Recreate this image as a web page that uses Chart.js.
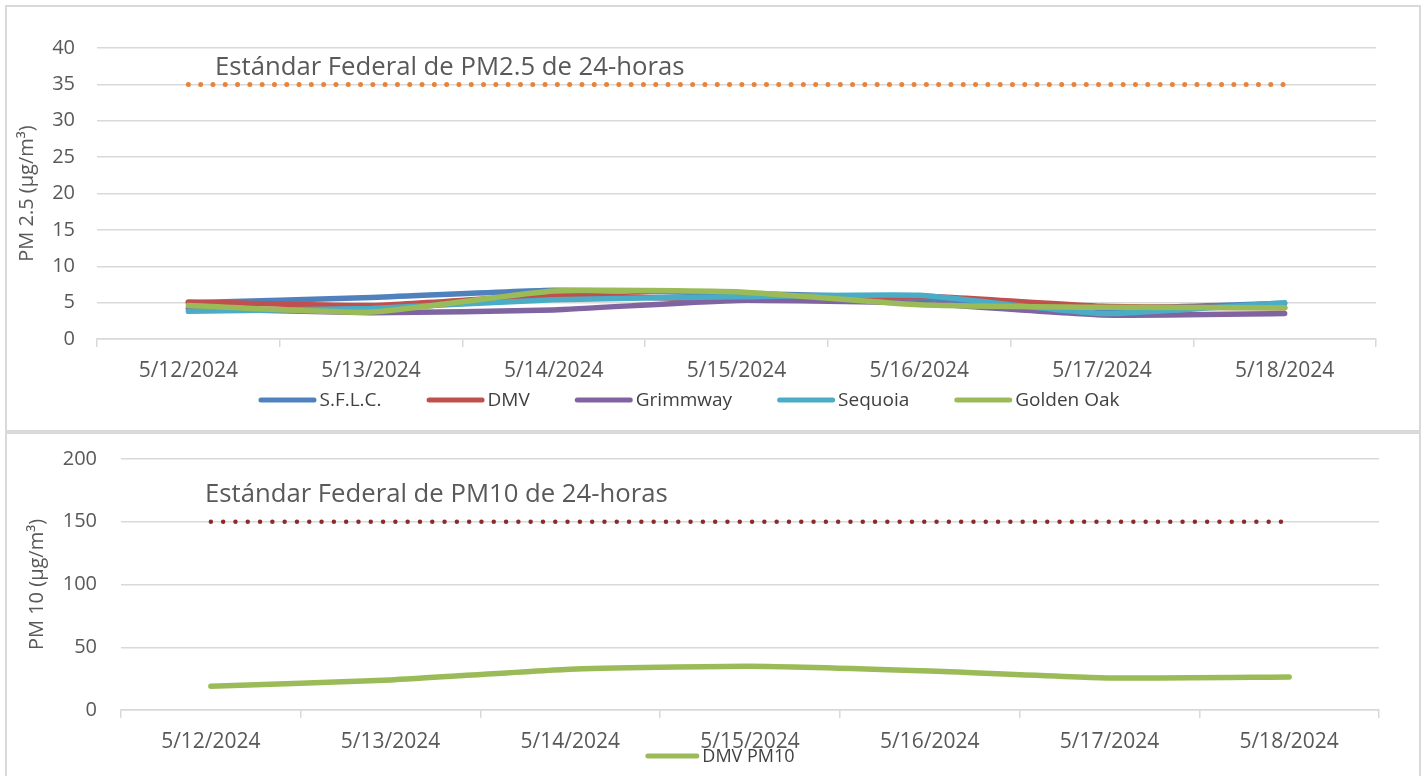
<!DOCTYPE html>
<html>
<head>
<meta charset="utf-8">
<script src="https://cdn.jsdelivr.net/npm/chart.js@4.4.1/dist/chart.umd.min.js"></script>
<style>
  html, body { margin: 0; padding: 0; background: #fff; overflow: hidden; }
  .panel { position: absolute; left: 5px; width: 1416px; box-sizing: border-box; border: 2px solid #d9d9d9; background: #fff; }
  #top-panel { top: 5px; height: 427px; }
  #bottom-panel { top: 432px; height: 350px; }
  canvas { display: block; }
</style>
</head>
<body>
<div class="panel" id="top-panel"><canvas id="pm25" width="1412" height="423"></canvas></div>
<div class="panel" id="bottom-panel"><canvas id="pm10" width="1412" height="346"></canvas></div>
<script>
// datos
const dates = ["5/12/2024", "5/13/2024", "5/14/2024", "5/15/2024", "5/16/2024", "5/17/2024", "5/18/2024"];

const sflc      = [5.0, 5.7, 6.7, 6.3, 5.6, 4.2, 4.9];
const dmv       = [5.1, 4.6, 6.0, 5.4, 5.9, 4.5, 4.3];
const grimmway  = [4.2, 3.6, 4.0, 5.3, 4.9, 3.3, 3.5];
const sequoia   = [3.8, 4.2, 5.4, 5.8, 6.0, 3.5, 5.0];
const goldenOak = [4.6, 3.7, 6.6, 6.5, 4.7, 4.35, 4.3];

const dmvPm10 = [19, 24, 32.5, 34.8, 31, 25.5, 26.3];

const pm25Limit = 35;
const pm10Limit = 150;
const pm25Ticks = { min: 0, max: 40, step: 5 };
const pm10Ticks = { min: 0, max: 200, step: 50 };

const pm25LimitText = "Estándar Federal de PM2.5 de 24-horas";
const pm10LimitText = "Estándar Federal de PM10 de 24-horas";

Chart.defaults.font.family = "'Open Sans', sans-serif";
Chart.defaults.color = "#595959";

const GRID = "#d9d9d9";
const TEXT = "#595959";

function seriesDs(label, data, color, order) {
  return {
    label, data,
    borderColor: color, backgroundColor: color,
    borderWidth: 5.5, pointRadius: 0, tension: 0.15,
    borderCapStyle: "round", borderJoinStyle: "round",
    order
  };
}

function limitDs(value, color, width) {
  return {
    label: "limit", isLimit: true,
    data: dates.map(() => value),
    borderColor: color, borderWidth: width,
    borderDash: [0, 12.3], borderCapStyle: "round",
    pointRadius: 0, tension: 0, order: 10
  };
}

// texto sobre la línea del estándar
const limitLabel = {
  id: "limitLabel",
  afterDatasetsDraw(chart, args, opts) {
    const { ctx, chartArea, scales } = chart;
    ctx.save();
    ctx.font = "25.7px 'Open Sans', sans-serif";
    ctx.fillStyle = TEXT;
    ctx.textBaseline = "middle";
    ctx.textAlign = "left";
    ctx.fillText(opts.text, chartArea.left + opts.dx, scales.y.getPixelForValue(opts.value) + opts.dy);
    ctx.restore();
  }
};

// leyenda con muestra de línea, estilo Excel
const lineLegend = {
  id: "lineLegend",
  afterDraw(chart, args, opts) {
    const { ctx, chartArea } = chart;
    const items = chart.data.datasets.filter(ds => !ds.isLimit);
    ctx.save();
    ctx.font = opts.size + "px 'Open Sans', sans-serif";
    const widths = items.map(ds => opts.lineLen + opts.textGap + ctx.measureText(ds.label).width);
    const total = widths.reduce((a, b) => a + b, 0) + opts.gap * (items.length - 1);
    let x = chart.width / 2 + opts.dx - total / 2;
    const y = chartArea.bottom + opts.dy;
    items.forEach((ds, i) => {
      ctx.strokeStyle = ds.borderColor;
      ctx.lineWidth = 5;
      ctx.lineCap = "round";
      ctx.beginPath();
      ctx.moveTo(x + 2.5, y - 1);
      ctx.lineTo(x + opts.lineLen - 2.5, y - 1);
      ctx.stroke();
      ctx.fillStyle = "#404040";
      ctx.textBaseline = "middle";
      ctx.textAlign = "left";
      ctx.fillText(ds.label, x + opts.lineLen + opts.textGap, y);
      x += widths[i] + opts.gap;
    });
    ctx.restore();
  }
};

function xScale() {
  return {
    offset: true,
    grid: { offset: true, drawOnChartArea: false, drawTicks: true, tickLength: 8, color: GRID, lineWidth: 1.5 },
    border: { display: true, color: GRID, width: 1.5 },
    ticks: { font: { size: 21 }, color: TEXT, padding: 11, maxRotation: 0, autoSkip: false },
    afterFit: (s) => { s.height = 45; }
  };
}

// el hueco entre etiquetas y eje va en tickLength (transparente) para no inflar el padding superior
function yScale(t, title, w, titlePad, gap) {
  return {
    min: t.min, max: t.max,
    grid: { drawTicks: true, tickLength: gap - 4, tickColor: "rgba(0,0,0,0)", color: GRID, lineWidth: 1.5 },
    border: { display: false },
    ticks: { stepSize: t.step, font: { size: 20 }, color: TEXT, padding: 4 },
    title: { display: true, text: title, font: { size: 20 }, color: TEXT, padding: { top: titlePad, bottom: 0 } },
    afterFit: (s) => { s.width = w; }
  };
}

new Chart(document.getElementById("pm25"), {
  type: "line",
  data: {
    labels: dates,
    datasets: [
      limitDs(pm25Limit, "#e8833a", 5),
      seriesDs("S.F.L.C.", sflc, "#4f81bd", 5),
      seriesDs("DMV", dmv, "#c0504d", 4),
      seriesDs("Grimmway", grimmway, "#8064a2", 3),
      seriesDs("Sequoia", sequoia, "#4bacc6", 2),
      seriesDs("Golden Oak", goldenOak, "#9bbb59", 1)
    ]
  },
  options: {
    responsive: false,
    animation: false,
    layout: { padding: { top: 41, left: 0, right: 43, bottom: 46 } },
    scales: {
      x: xScale(),
      y: yScale(pm25Ticks, "PM 2.5 (µg/m³)", 90, 8, 22)
    },
    plugins: {
      tooltip: { enabled: false },
      legend: { display: false },
      limitLabel: { text: pm25LimitText, value: pm25Limit, dx: 118, dy: -17 },
      lineLegend: { size: 19, lineLen: 58, textGap: 3, gap: 45, dx: -24, dy: 62 }
    }
  },
  plugins: [limitLabel, lineLegend]
});

new Chart(document.getElementById("pm10"), {
  type: "line",
  data: {
    labels: dates,
    datasets: [
      limitDs(pm10Limit, "#8b2c2c", 4.5),
      seriesDs("DMV PM10", dmvPm10, "#9bbb59", 1)
    ]
  },
  options: {
    responsive: false,
    animation: false,
    layout: { padding: { top: 25, left: 0, right: 40, bottom: 25 } },
    scales: {
      x: xScale(),
      y: yScale(pm10Ticks, "PM 10 (µg/m³)", 114, 18, 24)
    },
    plugins: {
      tooltip: { enabled: false },
      legend: { display: false },
      limitLabel: { text: pm10LimitText, value: pm10Limit, dx: 84, dy: -27 },
      lineLegend: { size: 18, lineLen: 54, textGap: 3, gap: 0, dx: 7, dy: 47 }
    }
  },
  plugins: [limitLabel, lineLegend]
});
</script>
</body>
</html>
